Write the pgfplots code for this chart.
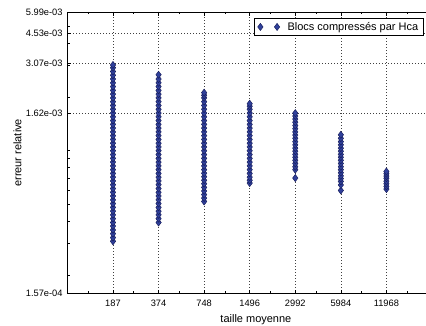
\documentclass[border=0pt]{standalone}
\usepackage{pgfplots}
\pgfplotsset{compat=1.18}
\usepackage{fontspec}
\setmainfont{Liberation Sans}
\definecolor{mfill}{RGB}{48,64,155}
\definecolor{mdraw}{RGB}{22,28,90}
\begin{document}
\begin{tikzpicture}
\begin{axis}[
  name=ax,
  width=365pt, height=282pt, scale only axis,
  xmode=log, ymode=log,
  xmin=93.5, xmax=23936,
  ymin=1.5699e-4, ymax=5.9901e-3,
  xtick={187,374,748,1496,2992,5984,11968},
  xticklabels={187,374,748,1496,2992,5984,11968},
  minor xtick={128,256,512,1024,2048,4096,8192,16384},
  ytick={1.57e-4,1.61525e-3,3.0735e-3,4.53175e-3,5.99e-3},
  yticklabels={1.57e-04,1.62e-03,3.07e-03,4.53e-03,5.99e-03},
  minor ytick={2e-4,3e-4,4e-4,5e-4,6e-4,7e-4,8e-4,9e-4,1e-3,2e-3,3e-3,4e-3,5e-3},
  tick align=inside,
  major tick length=4pt, minor tick length=2.5pt,
  tick style={black, line width=0.5pt},
  xmajorgrids, ymajorgrids,
  major grid style={black!75, line width=0.5pt, dash pattern=on 0.7pt off 2.3pt},
  axis line style={black, line width=0.7pt},
  ticklabel style={font=\fontsize{9.3}{11}\selectfont},
  xticklabel style={anchor=north, inner sep=0pt, yshift=-6pt},
  yticklabel style={anchor=east, inner sep=0pt, xshift=-4.7pt},
  xlabel={taille moyenne}, ylabel={erreur relative},
  label style={font=\fontsize{11}{13}\selectfont},
  xlabel style={at={(axis description cs:0.517,-0.1028)}, anchor=base},
  ylabel style={at={(axis description cs:-0.137,0.5)}, anchor=center},
  legend style={at={(axis description cs:0.978,0.979)}, anchor=north east, draw=black, line width=0.5pt, fill=white, font=\fontsize{11}{13}\selectfont, inner xsep=3pt, inner ysep=1.5pt, nodes={inner sep=2.5pt}, /tikz/every odd column/.append style={column sep=5.3pt}},
  legend cell align=left,
  legend image code/.code={\draw plot coordinates {(0pt,0pt) (16.7pt,0pt)}; \path[draw=none, fill=none] (-2.7pt,-3.6pt) (19.4pt,3.6pt);},
]
\addplot[only marks, mark=diamond*, mark size=3.6pt, mark options={fill=mfill, draw=mdraw, line width=0.45pt}] coordinates {
(187,3.09e-4) (187,3.24e-4) (187,3.41e-4) (187,3.58e-4) (187,3.76e-4) (187,3.94e-4) (187,4.14e-4) (187,4.35e-4) (187,4.56e-4) (187,4.79e-4) (187,5.03e-4) (187,5.28e-4) (187,5.55e-4) (187,5.82e-4) (187,6.11e-4) (187,6.42e-4) (187,6.74e-4) (187,7.08e-4) (187,7.43e-4) (187,7.80e-4) (187,8.19e-4) (187,8.60e-4) (187,9.03e-4) (187,9.48e-4) (187,9.96e-4) (187,1.046e-3) (187,1.098e-3) (187,1.153e-3) (187,1.211e-3) (187,1.271e-3) (187,1.335e-3) (187,1.401e-3) (187,1.471e-3) (187,1.545e-3) (187,1.622e-3) (187,1.703e-3) (187,1.789e-3) (187,1.878e-3) (187,1.972e-3) (187,2.071e-3) (187,2.174e-3) (187,2.283e-3) (187,2.397e-3) (187,2.517e-3) (187,2.643e-3) (187,2.775e-3) (187,2.914e-3) (187,3.02e-3)
(374,3.94e-4) (374,4.14e-4) (374,4.35e-4) (374,4.56e-4) (374,4.79e-4) (374,5.03e-4) (374,5.28e-4) (374,5.55e-4) (374,5.82e-4) (374,6.11e-4) (374,6.42e-4) (374,6.74e-4) (374,7.08e-4) (374,7.43e-4) (374,7.80e-4) (374,8.19e-4) (374,8.60e-4) (374,9.03e-4) (374,9.48e-4) (374,9.96e-4) (374,1.046e-3) (374,1.098e-3) (374,1.153e-3) (374,1.211e-3) (374,1.271e-3) (374,1.335e-3) (374,1.401e-3) (374,1.471e-3) (374,1.545e-3) (374,1.622e-3) (374,1.703e-3) (374,1.789e-3) (374,1.878e-3) (374,1.972e-3) (374,2.071e-3) (374,2.174e-3) (374,2.283e-3) (374,2.397e-3) (374,2.517e-3) (374,2.66e-3)
(748,5.17e-4) (748,5.40e-4) (748,5.65e-4) (748,5.92e-4) (748,6.20e-4) (748,6.50e-4) (748,6.80e-4) (748,7.12e-4) (748,7.45e-4) (748,7.80e-4) (748,8.19e-4) (748,8.60e-4) (748,9.03e-4) (748,9.48e-4) (748,9.96e-4) (748,1.046e-3) (748,1.098e-3) (748,1.153e-3) (748,1.211e-3) (748,1.271e-3) (748,1.335e-3) (748,1.401e-3) (748,1.471e-3) (748,1.545e-3) (748,1.622e-3) (748,1.703e-3) (748,1.789e-3) (748,1.878e-3) (748,1.972e-3) (748,2.04e-3) (748,2.11e-3)
(1496,6.56e-4) (1496,6.80e-4) (1496,7.08e-4) (1496,7.43e-4) (1496,7.80e-4) (1496,8.19e-4) (1496,8.60e-4) (1496,9.03e-4) (1496,9.48e-4) (1496,9.96e-4) (1496,1.046e-3) (1496,1.098e-3) (1496,1.153e-3) (1496,1.211e-3) (1496,1.271e-3) (1496,1.335e-3) (1496,1.401e-3) (1496,1.471e-3) (1496,1.545e-3) (1496,1.622e-3) (1496,1.703e-3) (1496,1.770e-3) (1496,1.83e-3)
(2992,7.00e-4) (2992,7.80e-4) (2992,8.10e-4) (2992,8.45e-4) (2992,8.80e-4) (2992,9.15e-4) (2992,9.50e-4) (2992,9.90e-4) (2992,1.030e-3) (2992,1.075e-3) (2992,1.120e-3) (2992,1.170e-3) (2992,1.220e-3) (2992,1.270e-3) (2992,1.325e-3) (2992,1.380e-3) (2992,1.440e-3) (2992,1.500e-3) (2992,1.560e-3) (2992,1.62e-3)
(5984,5.96e-4) (5984,6.40e-4) (5984,6.70e-4) (5984,6.95e-4) (5984,7.20e-4) (5984,7.50e-4) (5984,7.80e-4) (5984,8.10e-4) (5984,8.45e-4) (5984,8.80e-4) (5984,9.15e-4) (5984,9.50e-4) (5984,9.90e-4) (5984,1.030e-3) (5984,1.075e-3) (5984,1.120e-3) (5984,1.170e-3) (5984,1.224e-3)
(11968,6.07e-4) (11968,6.28e-4) (11968,6.50e-4) (11968,6.72e-4) (11968,6.98e-4) (11968,7.18e-4) (11968,7.40e-4) (11968,7.62e-4)
};
\addlegendentry{Blocs compressés par Hca}
\end{axis}
\pgfresetboundingbox
\path ([xshift=-67.5pt,yshift=-32pt]ax.south west) rectangle ([xshift=-6pt,yshift=12pt]ax.north east);
\end{tikzpicture}
\end{document}
